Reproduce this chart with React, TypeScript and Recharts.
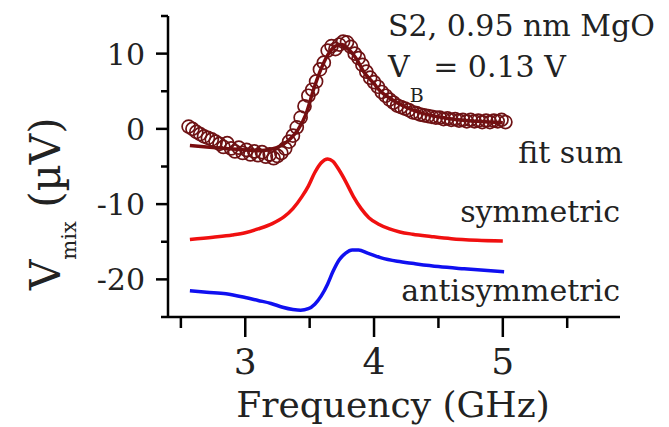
import { ComposedChart, Line, Scatter, XAxis, YAxis, Customized } from 'recharts';

// measured points (open circles)
const measFreq = [
  2.56, 2.59, 2.62, 2.65, 2.68, 2.71, 2.74, 2.77, 2.8, 2.83, 2.86, 2.89, 2.92, 2.95, 2.98, 3.01, 3.04,
  3.07, 3.1, 3.13, 3.16, 3.19, 3.22, 3.25, 3.28, 3.31, 3.34, 3.37, 3.4, 3.43, 3.46, 3.49, 3.52, 3.55,
  3.58, 3.61, 3.64, 3.67, 3.7, 3.73, 3.76, 3.79, 3.82, 3.85, 3.88, 3.91, 3.94, 3.97, 4.0, 4.03, 4.06,
  4.09, 4.12, 4.15, 4.18, 4.21, 4.24, 4.27, 4.3, 4.33, 4.36, 4.39, 4.42, 4.45, 4.48, 4.51, 4.54, 4.57,
  4.6, 4.63, 4.66, 4.69, 4.72, 4.75, 4.78, 4.81, 4.84, 4.87, 4.9, 4.93, 4.96, 4.99, 5.02,
];
const measVmix = [
  0.3, 0.0, -0.4, -0.7, -1.0, -1.2, -1.4, -1.7, -2.0, -2.4, -1.9, -2.6, -3.0, -2.5, -3.2, -2.8, -3.4,
  -3.0, -3.5, -3.1, -3.7, -3.4, -3.9, -3.6, -3.2, -2.6, -1.7, -0.9, 0.2, 1.5, 3.0, 4.4, 5.2, 6.3,
  7.9, 8.8, 10.4, 11.0, 10.6, 11.2, 11.6, 11.5, 10.9, 10.0, 9.4, 8.5, 7.6, 6.8, 6.2, 5.6, 4.9,
  4.4, 3.9, 3.5, 3.1, 2.9, 2.7, 2.5, 2.2, 2.1, 1.9, 1.8, 1.7, 1.6, 1.5, 1.5, 1.3, 1.4,
  1.2, 1.3, 1.1, 1.2, 1.0, 1.2, 1.0, 1.1, 0.9, 1.1, 0.9, 1.1, 1.0, 1.2, 0.9,
];

// fit sum
const fitFreq = [2.57, 2.7, 2.85, 3.0, 3.1, 3.2, 3.29, 3.35, 3.41, 3.47, 3.53, 3.58, 3.64, 3.7, 3.75, 3.8, 3.86, 3.92, 4.0, 4.05, 4.12, 4.23, 4.35, 4.5, 4.65, 4.8, 5.0];
const fitVmix = [-2.2, -2.4, -2.6, -2.8, -2.9, -2.7, -2.1, -1.3, -0.1, 1.9, 5.2, 7.6, 9.8, 11.0, 11.2, 10.6, 9.4, 7.6, 6.0, 5.0, 4.1, 3.0, 2.2, 1.6, 1.2, 1.0, 0.8];

// symmetric component
const symFreq = [2.57, 2.75, 2.9, 3.0, 3.1, 3.21, 3.3, 3.37, 3.44, 3.49, 3.54, 3.59, 3.64, 3.68, 3.73, 3.78, 3.84, 3.9, 3.96, 4.04, 4.12, 4.2, 4.3, 4.44, 4.6, 4.8, 5.0];
const symVmix = [-14.7, -14.4, -14.1, -13.8, -13.3, -12.6, -11.7, -10.6, -9.0, -7.6, -5.8, -4.5, -4.0, -4.3, -5.5, -7.0, -9.0, -10.6, -11.8, -12.7, -13.3, -13.7, -14.0, -14.3, -14.6, -14.8, -14.9];

// antisymmetric component
const antiFreq = [2.57, 2.7, 2.85, 3.0, 3.1, 3.2, 3.29, 3.37, 3.43, 3.49, 3.54, 3.59, 3.64, 3.68, 3.73, 3.78, 3.83, 3.88, 3.95, 4.05, 4.18, 4.31, 4.5, 4.7, 5.01];
const antiVmix = [-21.5, -21.7, -21.9, -22.4, -22.8, -23.2, -23.7, -24.0, -24.1, -23.9, -23.3, -22.2, -20.6, -19.0, -17.4, -16.5, -16.1, -16.1, -16.5, -17.1, -17.6, -17.9, -18.3, -18.6, -19.0];

const freqTicks = [2.5, 3, 3.5, 4, 4.5, 5, 5.5];
const freqLabels = [3, 4, 5];
const vTicks = [-25, -20, -15, -10, -5, 0, 5, 10, 15];
const vLabels = [-20, -10, 0, 10];

const rows = (fs: number[], vs: number[]) => fs.map((f, i) => ({ f, v: vs[i] }));

const FONT = "'DejaVu Serif', serif";
const AXIS_X = 168;
const AXIS_Y = 317;

const FreqTick = (props: any) => {
  const { x, payload } = props;
  const major = freqLabels.includes(payload.value);
  return (
    <g>
      <line x1={x} x2={x} y1={AXIS_Y} y2={AXIS_Y + (major ? 20 : 11)} stroke="#000" strokeWidth={2.5} />
      {major && (
        <text x={x} y={374} textAnchor="middle" fontFamily={FONT} fontSize={36} fill="#222">
          {payload.value}
        </text>
      )}
    </g>
  );
};

const VTick = (props: any) => {
  const { y, payload } = props;
  const major = vLabels.includes(payload.value);
  return (
    <g>
      <line x1={AXIS_X} x2={AXIS_X - (major ? 12 : 7)} y1={y} y2={y} stroke="#000" strokeWidth={2.5} />
      {major && (
        <text x={145} y={y} dy={11} textAnchor="end" fontFamily={FONT} fontSize={30} fill="#222">
          {payload.value}
        </text>
      )}
    </g>
  );
};

const Ring = (props: any) => (
  <circle cx={props.cx} cy={props.cy} r={6.5} fill="none" stroke="#6e1214" strokeWidth={1.7} />
);

const Annotations = () => (
  <g fontFamily={FONT} fill="#222">
    <text x={388} y={36} fontSize={30}>S2, 0.95 nm MgO</text>
    <text x={388} y={77} fontSize={30}>
      V<tspan fontSize={19} dy={25}>B</tspan>
      <tspan fontSize={30} dy={-25}> = 0.13 V</tspan>
    </text>
    <text x={623} y={163} fontSize={30} textAnchor="end">fit sum</text>
    <text x={620} y={222} fontSize={30} textAnchor="end">symmetric</text>
    <text x={620} y={301} fontSize={30} textAnchor="end">antisymmetric</text>
    <text x={393} y={417} fontSize={36} textAnchor="middle">Frequency (GHz)</text>
    <text transform="translate(60,290) rotate(-90)" fontSize={42}>
      V<tspan fontSize={21} dy={16}>mix</tspan>
      <tspan fontSize={42} dy={-16}> (µV)</tspan>
    </text>
  </g>
);

export default function App() {
  return (
    <div style={{ position: 'absolute', left: 0, top: 0, width: 669, height: 427, background: '#fff' }}>
      <ComposedChart width={669} height={427} margin={{ top: 16, right: 49, bottom: 0, left: 0 }}>
        <XAxis
          dataKey="f"
          type="number"
          domain={[2.4, 5.91]}
          ticks={freqTicks}
          allowDataOverflow
          height={110}
          axisLine={{ stroke: '#000', strokeWidth: 2.5 }}
          tickLine={false}
          tick={<FreqTick />}
          interval={0}
        />
        <YAxis
          dataKey="v"
          type="number"
          domain={[-25, 15]}
          ticks={vTicks}
          allowDataOverflow
          width={168}
          axisLine={{ stroke: '#000', strokeWidth: 2.5 }}
          tickLine={false}
          tick={<VTick />}
          interval={0}
        />
        <Scatter data={rows(measFreq, measVmix)} dataKey="v" shape={<Ring />} isAnimationActive={false} />
        <Line data={rows(fitFreq, fitVmix)} dataKey="v" type="monotone" stroke="#7a0c0e" strokeWidth={3.5} dot={false} isAnimationActive={false} />
        <Line data={rows(symFreq, symVmix)} dataKey="v" type="monotone" stroke="#f01010" strokeWidth={3.5} dot={false} isAnimationActive={false} />
        <Line data={rows(antiFreq, antiVmix)} dataKey="v" type="monotone" stroke="#1010f0" strokeWidth={3.5} dot={false} isAnimationActive={false} />
        <Customized component={Annotations} />
      </ComposedChart>
    </div>
  );
}
